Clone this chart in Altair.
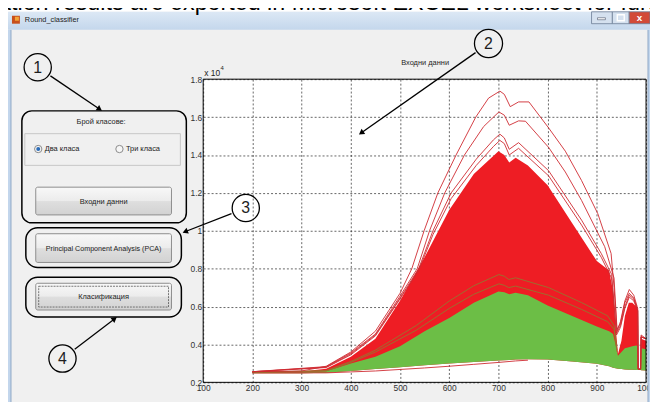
import math
import altair as alt
import pandas as pd

# ---------------- data ----------------
x_ticks = [100, 200, 300, 400, 500, 600, 700, 800, 900, 1000]
y_ticks = [0.2, 0.4, 0.6, 0.8, 1.0, 1.2, 1.4, 1.6, 1.8]

env_wl       = [200, 300, 350, 400, 450, 500, 550, 600, 650, 700, 712, 722, 735, 760, 800, 850, 900, 925, 933, 938,
                943, 950, 957, 965, 972, 980, 983, 984, 989, 990, 1000]
red_top      = [0.256, 0.257, 0.272, 0.335, 0.43, 0.63, 0.86, 1.11, 1.30, 1.42, 1.40, 1.36, 1.385, 1.345, 1.24, 1.04, 0.84, 0.79, 0.68, 0.50,
                0.35, 0.42, 0.55, 0.62, 0.62, 0.60, 0.58, 0.27, 0.27, 0.43, 0.42]
green_top    = [0.252, 0.253, 0.258, 0.30, 0.335, 0.39, 0.47, 0.54, 0.62, 0.68, 0.675, 0.665, 0.673, 0.66, 0.605, 0.55, 0.495, 0.47, 0.455, 0.40,
                0.34, 0.36, 0.38, 0.385, 0.39, 0.394, 0.39, 0.27, 0.27, 0.38, 0.375]
green_bottom = [0.248, 0.248, 0.25, 0.26, 0.27, 0.28, 0.29, 0.30, 0.308, 0.315, 0.317, 0.318, 0.32, 0.322, 0.32, 0.31, 0.298, 0.285, 0.277, 0.275,
                0.272, 0.27, 0.268, 0.267, 0.266, 0.265, 0.265, 0.265, 0.265, 0.264, 0.262]

low_red_wl = [200, 300, 350, 400, 450, 500, 550, 600, 650, 700, 735, 760]
low_red_v  = [0.25, 0.25, 0.25, 0.255, 0.26, 0.268, 0.276, 0.285, 0.295, 0.305, 0.313, 0.317]

curve_a_wl = [200, 300, 350, 400, 450, 500, 524, 549, 577, 614, 654, 680, 703, 712, 724, 741, 762, 802, 836, 869,
              902, 929, 935, 941, 948, 957, 966, 975, 982, 983, 984, 989, 990, 1000]
curve_a_v  = [0.256, 0.26, 0.285, 0.36, 0.47, 0.67, 0.80, 1.00, 1.20, 1.40, 1.60, 1.70, 1.737, 1.72, 1.655, 1.68, 1.68, 1.543, 1.42, 1.265,
              1.09, 0.88, 0.70, 0.47, 0.52, 0.63, 0.69, 0.66, 0.60, 0.59, 0.27, 0.27, 0.45, 0.43]

curve_b_wl = [200, 350, 400, 450, 500, 535, 560, 591, 631, 670, 690, 701, 712, 722, 741, 755, 802, 836, 869, 916,
              935, 941, 948, 957, 966, 975, 982, 983, 984, 989, 990, 1000]
curve_b_v  = [0.256, 0.283, 0.355, 0.455, 0.655, 0.80, 1.00, 1.20, 1.40, 1.55, 1.60, 1.627, 1.61, 1.557, 1.58, 1.578, 1.44, 1.31, 1.16, 0.916,
              0.75, 0.48, 0.51, 0.62, 0.67, 0.645, 0.59, 0.58, 0.27, 0.27, 0.44, 0.43]

curve_cd_wl = [200, 350, 400, 450, 500, 538, 567, 604, 655, 690, 703, 712, 722, 741, 802, 869, 909, 930, 940, 948,
               957, 966, 975, 982, 983, 984, 989, 990, 1000]
curve_c_v   = [0.256, 0.28, 0.35, 0.45, 0.645, 0.80, 1.00, 1.20, 1.378, 1.48, 1.51, 1.49, 1.43, 1.465, 1.317, 1.056, 0.88, 0.77, 0.46, 0.50,
               0.60, 0.66, 0.64, 0.59, 0.58, 0.27, 0.27, 0.44, 0.43]
curve_d_v   = [0.256, 0.278, 0.345, 0.445, 0.64, 0.79, 0.98, 1.17, 1.345, 1.445, 1.477, 1.46, 1.40, 1.435, 1.29, 1.03, 0.86, 0.75, 0.45, 0.49,
               0.59, 0.65, 0.63, 0.585, 0.575, 0.27, 0.27, 0.44, 0.43]

olive_wl  = [200, 350, 400, 450, 533, 600, 650, 701, 712, 721, 735, 802, 869, 922, 935, 941]
olive_e_v = [0.253, 0.262, 0.31, 0.37, 0.50, 0.629, 0.71, 0.769, 0.76, 0.743, 0.752, 0.70, 0.621, 0.551, 0.50, 0.37]
olive_f_v = [0.253, 0.26, 0.305, 0.36, 0.475, 0.59, 0.665, 0.72, 0.712, 0.70, 0.708, 0.66, 0.585, 0.52, 0.48, 0.36]

plot_title = "Входни данни"
window_title = "Round_classifier"
caption_text = "ation results are exported in Microsoft EXCEL worksheet for furth"
group_label = "Брой класове:"
radio_labels = ["Два класа", "Три класа"]
button_labels = ["Входни данни", "Principal Component Analysis (PCA)", "Класификация"]
callout_numbers = ["1", "2", "3", "4"]

# ---------------- styles ----------------
RED = "#ee1d24"
GREEN = "#6cbe46"
OUTLINE = "#cf2a30"
OLIVE = "#94762f"
FONT = "Liberation Sans"

# plot origin on the page (GUI decorations are laid out in page pixels)
OX, OY = 205.0, 78.0
PW, PH = 447, 306


def df_px(rows):
    out = []
    for r in rows:
        d = dict(r)
        for k in ("x", "x2"):
            if k in d:
                d[k] = d[k] - OX
        for k in ("y", "y2"):
            if k in d:
                d[k] = d[k] - OY
        out.append(d)
    return pd.DataFrame(out)


def pxX(f="x"):
    return alt.X(f + ":Q", scale=None, axis=None)


def pxY(f="y"):
    return alt.Y(f + ":Q", scale=None, axis=None)


def rect_layer(rows, **mk):
    return alt.Chart(df_px(rows)).mark_rect(**mk).encode(
        x=pxX(), x2=alt.X2("x2:Q"), y=pxY(), y2=alt.Y2("y2:Q"))


def rect_fill_layer(rows, **mk):
    return alt.Chart(df_px(rows)).mark_rect(**mk).encode(
        x=pxX(), x2=alt.X2("x2:Q"), y=pxY(), y2=alt.Y2("y2:Q"),
        fill=alt.Fill("fill:N", scale=None, legend=None))


def text_layer(rows, **mk):
    return alt.Chart(df_px(rows)).mark_text(font=FONT, **mk).encode(
        x=pxX(), y=pxY(), text="t:N",
        size=alt.Size("fs:Q", scale=None, legend=None))


# ---------------- chart axes ----------------
xs = alt.Scale(domain=[100, 1000], nice=False, zero=False)
ys = alt.Scale(domain=[0.2, 1.8], nice=False, zero=False)
grid_kw = dict(grid=True, ticks=False, domain=False, title=None, labelFontSize=8.5,
               labelColor="#333333", labelFlush=False, labelOverlap=False,
               gridColor="#2a2a2a", gridDash=[2, 2], gridWidth=0.8, gridOpacity=0.9,
               labelFont=FONT)
xaxis = alt.Axis(values=x_ticks, format="d", labelPadding=1.5, **grid_kw)
yaxis = alt.Axis(values=y_ticks, format="~g", labelPadding=1.5, **grid_kw)
X = alt.X("wl:Q", scale=xs, axis=xaxis)
Y = alt.Y("v:Q", scale=ys, axis=yaxis)

env_red = pd.DataFrame({"wl": env_wl, "v": red_top, "v2": green_bottom})
env_green = pd.DataFrame({"wl": env_wl, "v": green_top, "v2": green_bottom})
low_red = pd.DataFrame({"wl": low_red_wl, "v": low_red_v})

curves = pd.concat([
    pd.DataFrame({"wl": curve_a_wl, "v": curve_a_v, "s": "A"}),
    pd.DataFrame({"wl": curve_b_wl, "v": curve_b_v, "s": "B"}),
    pd.DataFrame({"wl": curve_cd_wl, "v": curve_c_v, "s": "C"}),
    pd.DataFrame({"wl": curve_cd_wl, "v": curve_d_v, "s": "D"}),
])
olives = pd.concat([
    pd.DataFrame({"wl": olive_wl, "v": olive_e_v, "s": "E"}),
    pd.DataFrame({"wl": olive_wl, "v": olive_f_v, "s": "F"}),
])

red_area = alt.Chart(env_red).mark_area(color=RED, opacity=1).encode(x=X, y=Y, y2=alt.Y2("v2:Q"))
green_area = alt.Chart(env_green).mark_area(color=GREEN, opacity=1).encode(x=X, y=Y, y2=alt.Y2("v2:Q"))
low_line = alt.Chart(low_red).mark_line(color=OUTLINE, strokeWidth=0.9).encode(x=X, y=Y)
olive_lines = alt.Chart(olives).mark_line(color=OLIVE, strokeWidth=0.9).encode(x=X, y=Y, detail="s:N")
curve_lines = alt.Chart(curves).mark_line(color=OUTLINE, strokeWidth=0.9).encode(x=X, y=Y, detail="s:N")

frame = alt.Chart(alt.Data(values=[{}])).mark_rect(fillOpacity=0, stroke="black", strokeWidth=1).encode(
    x=alt.value(0), x2=alt.value({"expr": "width"}), y=alt.value(0), y2=alt.value({"expr": "height"}))

# ---------------- window chrome (page pixel layout) ----------------
title_grad = alt.LinearGradient(gradient="linear", x1=0, x2=0, y1=0, y2=1, stops=[
    alt.GradientStop(color="#dce8f5", offset=0), alt.GradientStop(color="#c4d7ec", offset=1)])
btn_grad = alt.LinearGradient(gradient="linear", x1=0, x2=0, y1=0, y2=1, stops=[
    alt.GradientStop(color="#f8f8f8", offset=0), alt.GradientStop(color="#ececec", offset=0.48),
    alt.GradientStop(color="#dedede", offset=0.52), alt.GradientStop(color="#d2d2d2", offset=1)])

chrome_plain = rect_fill_layer([
    {"x": 0, "x2": 660, "y": 0, "y2": 10, "fill": "white"},
    {"x": 6, "x2": 11, "y": 28, "y2": 410, "fill": "#c3d6ec"},
    {"x": 10.5, "x2": 11.5, "y": 28, "y2": 410, "fill": "#8ea7c6"},
    {"x": 654, "x2": 662, "y": 28, "y2": 410, "fill": "#c3d6ec"},
    {"x": 653.5, "x2": 654.5, "y": 28, "y2": 410, "fill": "#8ea7c6"},
])
title_bar = rect_layer([{"x": 6, "x2": 660, "y": 10, "y2": 28}], fill=title_grad, cornerRadius=3)
win_buttons = rect_fill_layer([
    {"x": 597, "x2": 618, "y": 10, "y2": 22, "fill": "#d5e1ef"},
    {"x": 618, "x2": 635, "y": 10, "y2": 22, "fill": "#d5e1ef"},
    {"x": 635, "x2": 656, "y": 10, "y2": 22, "fill": "#d24a38"},
], stroke="#6b7c95", strokeWidth=0.8)
min_glyph = rect_layer([{"x": 603, "x2": 611, "y": 16, "y2": 18}], fill="white", stroke="#4a5568", strokeWidth=0.6)
max_glyph = rect_layer([{"x": 623, "x2": 630, "y": 13, "y2": 19}], fillOpacity=0, stroke="white", strokeWidth=1.4)
icon = rect_fill_layer([
    {"x": 12, "x2": 20, "y": 14, "y2": 22, "fill": "#c8501c"},
    {"x": 15, "x2": 19, "y": 15, "y2": 19, "fill": "#f3a53a"},
])

# group boxes, panel, buttons
group_boxes = alt.layer(
    rect_layer([{"x": 22, "x2": 188, "y": 110, "y2": 223}], fillOpacity=0, stroke="black", strokeWidth=1.5, cornerRadius=10),
    rect_layer([{"x": 26, "x2": 183, "y": 228, "y2": 268},
                {"x": 26, "x2": 183, "y": 278, "y2": 318}], fillOpacity=0, stroke="black", strokeWidth=1.5, cornerRadius=12),
)
panel = rect_layer([{"x": 25, "x2": 182, "y": 133, "y2": 165}], fillOpacity=0, stroke="#c6c6c6", strokeWidth=1)
buttons = rect_layer([
    {"x": 36, "x2": 173, "y": 187, "y2": 215},
    {"x": 36, "x2": 173, "y": 234, "y2": 263},
    {"x": 36, "x2": 173, "y": 284, "y2": 311},
], fill=btn_grad, stroke="#8d8d8d", strokeWidth=1, cornerRadius=2)
focus_rect = rect_layer([{"x": 39, "x2": 170, "y": 287, "y2": 308}], fillOpacity=0, stroke="#555555",
                        strokeWidth=0.8, strokeDash=[2, 1])

# radio buttons
radio_outer = alt.Chart(df_px([{"x": 38.5, "y": 148.5}, {"x": 120.5, "y": 148.5}])).mark_point(
    shape="circle", filled=True, fill="#f6f6f6", stroke="#8a8a8a", strokeWidth=1, size=55, opacity=1).encode(x=pxX(), y=pxY())
radio_dot = alt.Chart(df_px([{"x": 38.5, "y": 148.5}])).mark_point(
    shape="circle", filled=True, color="#2b6cb8", size=16, opacity=1).encode(x=pxX(), y=pxY())

# callout circles and arrows
centers = [(38, 66), (493, 42), (248, 208), (63, 360)]
radii = [15.5, 16, 15.5, 15.5]
tips = [(103, 110), (362, 134), (184, 233), (118, 318)]
circ_rows, arrow_rows, head_rows, num_rows = [], [], [], []
for (cx, cy), r, (tx, ty), lab in zip(centers, radii, tips, callout_numbers):
    circ_rows.append({"x": cx, "y": cy, "s": math.pi * r * r})
    dx, dy = tx - cx, ty - cy
    L = math.hypot(dx, dy)
    ux, uy = dx / L, dy / L
    arrow_rows.append({"x": cx + ux * r, "y": cy + uy * r, "x2": tx - ux * 2, "y2": ty - uy * 2})
    ang = math.degrees(math.atan2(dx, -dy)) % 360
    head_rows.append({"x": tx - ux * 3, "y": ty - uy * 3, "a": ang})
    num_rows.append({"x": cx, "y": cy + 0.5, "t": lab, "fs": 16})

circles = alt.Chart(df_px(circ_rows)).mark_point(shape="circle", filled=False, stroke="black",
                                                 strokeWidth=1.3, opacity=1).encode(
    x=pxX(), y=pxY(), size=alt.Size("s:Q", scale=None, legend=None))
arrows = alt.Chart(df_px(arrow_rows)).mark_rule(color="black", strokeWidth=1.3).encode(
    x=pxX(), x2=alt.X2("x2:Q"), y=pxY(), y2=alt.Y2("y2:Q"))
heads = alt.Chart(df_px(head_rows)).mark_point(shape="triangle-up", filled=True, color="black",
                                               size=40, opacity=1).encode(
    x=pxX(), y=pxY(), angle=alt.Angle("a:Q", scale=None, legend=None))

# texts
texts_center = text_layer([
    {"x": 102, "y": 121, "t": group_label, "fs": 7.5},
    {"x": 104.5, "y": 201.5, "t": button_labels[0], "fs": 7.5},
    {"x": 104.5, "y": 249, "t": button_labels[1], "fs": 7.2},
    {"x": 104.5, "y": 297.5, "t": button_labels[2], "fs": 7.5},
    {"x": 429, "y": 62, "t": plot_title, "fs": 7.5},
] + num_rows, align="center", baseline="middle", color="#1e1e1e")
texts_left = text_layer([
    {"x": 45, "y": 148.8, "t": radio_labels[0], "fs": 7.5},
    {"x": 127, "y": 148.8, "t": radio_labels[1], "fs": 7.5},
    {"x": 25, "y": 18.5, "t": window_title, "fs": 7.4},
    {"x": 206, "y": 72, "t": "x 10", "fs": 8.5},
    {"x": 222.5, "y": 67, "t": "4", "fs": 6},
], align="left", baseline="middle", color="#222222")
caption = text_layer([{"x": -2, "y": 8.6, "t": caption_text, "fs": 23.5}],
                     align="left", baseline="alphabetic", color="black")
close_glyph = text_layer([{"x": 645.5, "y": 16, "t": "x", "fs": 10}], align="center", baseline="middle",
                         color="white", fontWeight="bold")

chart = alt.layer(
    red_area, green_area, low_line, olive_lines, curve_lines, frame,
    chrome_plain, title_bar, win_buttons, min_glyph, max_glyph, icon, close_glyph, caption,
    panel, buttons, focus_rect, group_boxes, radio_outer, radio_dot,
    circles, arrows, heads, texts_center, texts_left,
).properties(
    width=PW, height=PH,
    autosize=alt.AutoSizeParams(type="none"),
    padding={"left": 197, "top": 70, "right": 4, "bottom": 18},
    background="#f0f0f0",
).configure(font=FONT).configure_view(fill="white", stroke=None)

chart.save("out.html", embed_options={"renderer": "svg", "actions": False})
